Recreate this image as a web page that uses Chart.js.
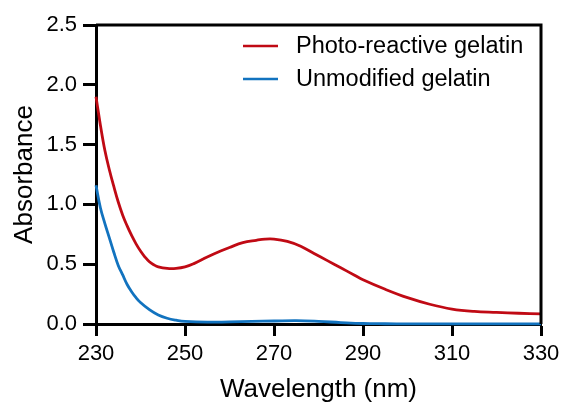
<!DOCTYPE html>
<html>
<head>
<meta charset="utf-8">
<script src="https://cdn.jsdelivr.net/npm/chart.js@4.4.1/dist/chart.umd.min.js"></script>
<style>
  html, body { margin: 0; padding: 0; background: #fff; }
  #wrap { width: 565px; height: 407px; }
</style>
</head>
<body>
<div id="wrap"><canvas id="uvChart" width="565" height="407"></canvas></div>
<script>
// absorbance spectra
const photoWl = [230, 231, 232, 233, 234, 235, 236, 237, 238, 239, 240, 241, 242, 243, 244, 246, 248, 250, 252, 255, 258, 260, 263, 266, 268, 270, 273, 276, 279, 282, 285, 288, 290, 295, 300, 305, 310, 315, 320, 325, 330];
const photoAbs = [1.90, 1.66, 1.45, 1.29, 1.15, 1.02, 0.91, 0.82, 0.74, 0.67, 0.61, 0.56, 0.52, 0.495, 0.478, 0.465, 0.465, 0.477, 0.505, 0.56, 0.61, 0.64, 0.68, 0.70, 0.71, 0.71, 0.69, 0.65, 0.59, 0.53, 0.47, 0.41, 0.37, 0.29, 0.22, 0.165, 0.125, 0.105, 0.097, 0.09, 0.085];

const unmodWl = [230, 231, 232, 233, 234, 235, 236, 237, 238, 239, 240, 242, 244, 246, 248, 250, 255, 260, 265, 270, 275, 280, 285, 290, 295, 300, 310, 320, 330];
const unmodAbs = [1.16, 0.97, 0.84, 0.72, 0.60, 0.49, 0.41, 0.33, 0.27, 0.22, 0.18, 0.12, 0.075, 0.048, 0.032, 0.022, 0.015, 0.018, 0.022, 0.025, 0.028, 0.022, 0.012, 0.004, 0.002, 0.001, 0.001, 0.001, 0.001];

const seriesLabels = ["Photo-reactive gelatin", "Unmodified gelatin"];
const xTicks = [230, 250, 270, 290, 310, 330];
const yTicks = [0, 0.5, 1.0, 1.5, 2.0, 2.5];

const FONT = "'Liberation Sans', Arial, sans-serif";

function toXY(xs, ys) {
    return xs.map((x, i) => ({ x: x, y: ys[i] }));
}

// full box around the plot + legend inside top right
const frameAndLegend = {
    id: "frameAndLegend",
    afterDraw(chart) {
        const { ctx, chartArea } = chart;
        ctx.save();
        ctx.strokeStyle = "#000";
        ctx.lineWidth = 3;
        ctx.beginPath();
        ctx.moveTo(chartArea.left, chartArea.top);
        ctx.lineTo(chartArea.right, chartArea.top);
        ctx.lineTo(chartArea.right, chartArea.bottom);
        ctx.stroke();

        ctx.font = "23.5px " + FONT;
        ctx.textBaseline = "middle";
        ctx.fillStyle = "#000";
        chart.data.datasets.forEach((ds, i) => {
            const y = 46 + i * 33;
            ctx.strokeStyle = ds.borderColor;
            ctx.lineWidth = 2.5;
            ctx.beginPath();
            ctx.moveTo(243, y);
            ctx.lineTo(278, y);
            ctx.stroke();
            ctx.fillText(ds.label, 296, y + 1);
        });
        ctx.restore();
    }
};

new Chart(document.getElementById("uvChart").getContext("2d"), {
    type: "line",
    data: {
        datasets: [
            {
                label: seriesLabels[0],
                data: toXY(photoWl, photoAbs),
                borderColor: "#c00a14",
                borderWidth: 2.8,
                pointRadius: 0,
                tension: 0.4,
                clip: false,
            },
            {
                label: seriesLabels[1],
                data: toXY(unmodWl, unmodAbs),
                borderColor: "#1273bf",
                borderWidth: 2.8,
                pointRadius: 0,
                tension: 0.4,
                clip: false,
            },
        ],
    },
    plugins: [frameAndLegend],
    options: {
        responsive: false,
        animation: false,
        layout: { padding: { top: 25, right: 24, left: 0, bottom: 0 } },
        plugins: {
            legend: { display: false },
            tooltip: { enabled: false },
        },
        scales: {
            x: {
                type: "linear",
                min: 230,
                max: 330,
                afterBuildTicks: (scale) => { scale.ticks = xTicks.map(v => ({ value: v })); },
                afterFit: (scale) => { scale.height = 83; },
                grid: { drawOnChartArea: false, tickLength: 12, tickWidth: 3, color: "#000" },
                border: { display: true, color: "#000", width: 3 },
                ticks: { color: "#000", padding: 5, font: { family: FONT, size: 22 } },
                title: {
                    display: true,
                    text: "Wavelength (nm)",
                    color: "#000",
                    padding: { top: 0, bottom: 2 },
                    font: { family: FONT, size: 26 },
                },
            },
            y: {
                min: 0,
                max: 2.5,
                afterBuildTicks: (scale) => { scale.ticks = yTicks.map(v => ({ value: v })); },
                afterFit: (scale) => { scale.width = 96; },
                grid: { drawOnChartArea: false, tickLength: 13, tickWidth: 3, color: "#000" },
                border: { display: true, color: "#000", width: 3 },
                ticks: {
                    color: "#000",
                    padding: 6,
                    font: { family: FONT, size: 22 },
                    callback: (v) => v.toFixed(1),
                },
                title: {
                    display: true,
                    text: "Absorbance",
                    color: "#000",
                    padding: { top: 9, bottom: 0 },
                    font: { family: FONT, size: 26 },
                },
            },
        },
    },
});
</script>
</body>
</html>
